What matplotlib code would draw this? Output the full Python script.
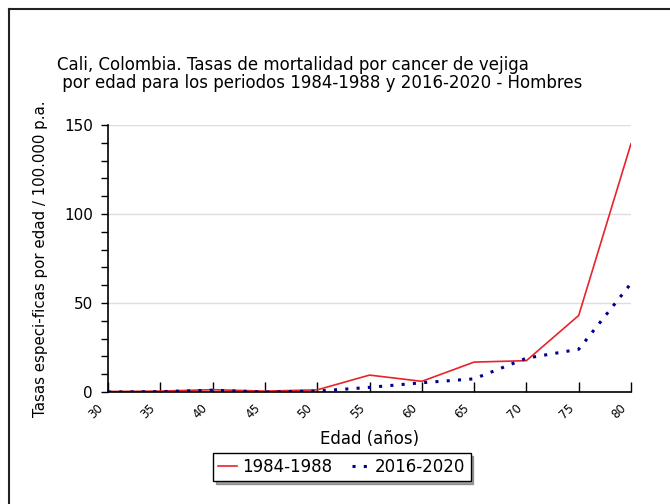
import matplotlib.pyplot as plt
from matplotlib.lines import Line2D
from matplotlib.transforms import ScaledTranslation

# edades (grupos quinquenales)
edades = [30, 35, 40, 45, 50, 55, 60, 65, 70, 75, 80]
tasas_1984_1988 = [0.3, 0.5, 1.3, 0.5, 1.2, 9.5, 6.0, 16.8, 17.6, 43.0, 139.5]
tasas_2016_2020 = [0.0, 0.2, 1.0, 0.0, 0.5, 2.6, 5.2, 7.4, 19.0, 24.0, 61.0]
etiquetas = ['1984-1988', '2016-2020']

plt.rcParams['font.family'] = 'DejaVu Sans'

fig = plt.figure(figsize=(6.70, 5.04), dpi=100)
ax = fig.add_axes([108 / 670, 1 - 392 / 504, 523 / 670, 267 / 504])

ax.plot(edades, tasas_1984_1988, color='#e8232a', lw=1.2, label=etiquetas[0])
ax.plot(edades, tasas_2016_2020, color='#00008c', lw=2.2,
        linestyle=(0, (1, 2.7)), label=etiquetas[1])

ax.set_xlim(30, 80)
ax.set_ylim(0, 150)
ax.set_yticks([0, 50, 100, 150])
ax.set_yticks(range(0, 151, 10), minor=True)
ax.set_xticks(edades)
ax.set_xticklabels([str(e) for e in edades], rotation=45, ha='center', va='center')
ax.tick_params(axis='x', direction='in', length=7, width=1, labelsize=8.5, pad=14)
ax.tick_params(axis='y', which='both', direction='out', length=5, width=1,
               labelsize=11, pad=6)

# desplazar las etiquetas del eje x hacia la izquierda
desp = ScaledTranslation(-12 / 100, 0, fig.dpi_scale_trans)
for lbl in ax.get_xticklabels():
    lbl.set_transform(lbl.get_transform() + desp)

ax.grid(axis='y', color='#dddddd', lw=1)
ax.set_axisbelow(True)
for s in ['top', 'right']:
    ax.spines[s].set_visible(False)
ax.spines['left'].set_linewidth(1.2)
ax.spines['bottom'].set_linewidth(1.2)

ax.set_xlabel('Edad (años)', fontsize=12)
ax.xaxis.set_label_coords(0.5, (392 - 430) / 267)
ax.set_ylabel('Tasas especi-ficas por edad / 100.000 p.a.', fontsize=10.8)
ax.yaxis.set_label_coords((48 - 108) / 523, 0.5)

fig.text(57 / 670, 1 - 70 / 504,
         'Cali, Colombia. Tasas de mortalidad por cancer de vejiga',
         fontsize=12, ha='left', va='baseline')
fig.text(57 / 670, 1 - 87.5 / 504,
         ' por edad para los periodos 1984-1988 y 2016-2020 - Hombres',
         fontsize=12, ha='left', va='baseline')

# marco superior e izquierdo de la imagen
fig.add_artist(Line2D([9 / 670, 9 / 670], [0, 1 - 9 / 504], color='#222222', lw=1.5))
fig.add_artist(Line2D([9 / 670, 1], [1 - 9 / 504, 1 - 9 / 504], color='#222222', lw=1.5))

leg = fig.legend(loc='center', bbox_to_anchor=(342 / 670, 1 - 467 / 504), ncol=2,
                 fontsize=12, frameon=True, fancybox=False, shadow=True,
                 handlelength=1.1, handletextpad=0.3, columnspacing=1.2,
                 borderpad=0.3, borderaxespad=0)
leg.get_frame().set_edgecolor('black')
leg.get_frame().set_linewidth(1)

fig.savefig('out.png', dpi=100)
